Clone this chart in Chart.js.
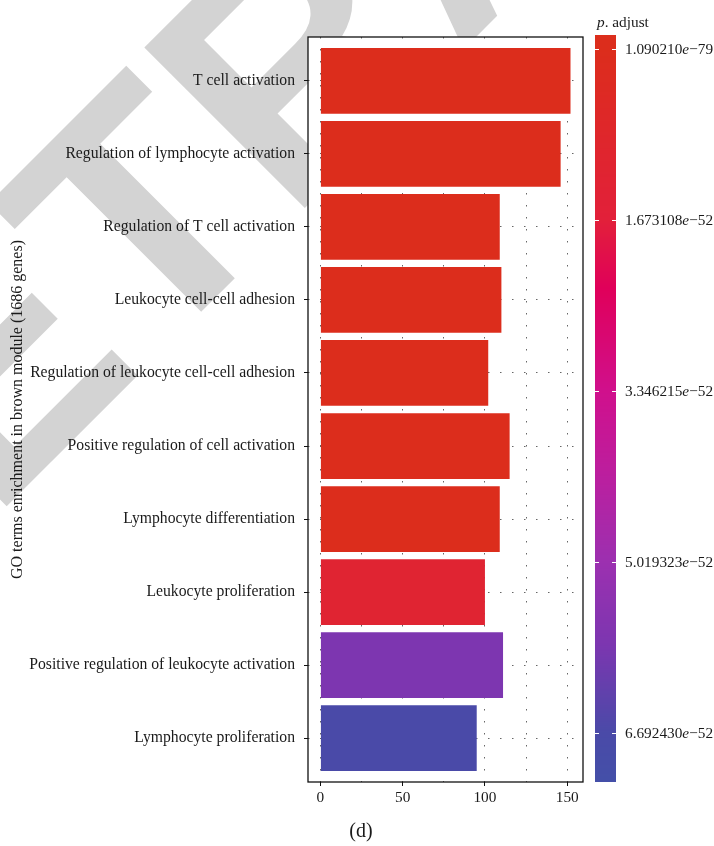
<!DOCTYPE html>
<html>
<head>
<meta charset="utf-8">
<script src="https://cdn.jsdelivr.net/npm/chart.js@4.4.0/dist/chart.umd.min.js"></script>
<style>
  html, body { margin: 0; padding: 0; background: #fff; }
</style>
</head>
<body>
<canvas id="grafico" width="714" height="846"></canvas>
<script>
// Dados
const categorias = [
    'T cell activation',
    'Regulation of lymphocyte activation',
    'Regulation of T cell activation',
    'Leukocyte cell-cell adhesion',
    'Regulation of leukocyte cell-cell adhesion',
    'Positive regulation of cell activation',
    'Lymphocyte differentiation',
    'Leukocyte proliferation',
    'Positive regulation of leukocyte activation',
    'Lymphocyte proliferation'
];
const contagens = [152, 146, 109, 110, 102, 115, 109, 100, 111, 95];
const pAjustado = [1.090210e-79, 3.2e-70, 5.1e-62, 8.4e-60, 2.6e-56, 4.0e-55, 1.9e-54, 1.2e-52, 5.8e-52, 6.692430e-52];
const ticksX = [0, 25, 50, 75, 100, 125, 150];
const rotulosX = [0, 50, 100, 150];
const ticksCor = [1.090210e-79, 1.673108e-52, 3.346215e-52, 5.019323e-52, 6.692430e-52];

const fonteSerif = '"Liberation Serif", "DejaVu Serif", serif';
const corTexto = '#1a1a1a';

// Gradiente da barra de cores (fração do intervalo -> cor)
const paradasCor = [
    [-0.03, [220, 46, 28]],
    [0.0, [220, 45, 28]],
    [0.25, [226, 32, 58]],
    [0.35, [224, 0, 90]],
    [0.5, [208, 16, 140]],
    [0.62, [188, 30, 158]],
    [0.75, [156, 48, 176]],
    [0.87, [124, 54, 176]],
    [1.0, [74, 74, 168]],
    [1.08, [67, 80, 168]]
];

function corFracao(f) {
    if (f <= paradasCor[0][0]) return paradasCor[0][1];
    for (let i = 1; i < paradasCor.length; i++) {
        const [f1, c1] = paradasCor[i];
        const [f0, c0] = paradasCor[i - 1];
        if (f <= f1) {
            const t = (f - f0) / (f1 - f0);
            return c0.map((c, k) => Math.round(c + (c1[k] - c) * t));
        }
    }
    return paradasCor[paradasCor.length - 1][1];
}

const minCor = ticksCor[0];
const maxCor = ticksCor[ticksCor.length - 1];

function corPara(p) {
    const c = corFracao((p - minCor) / (maxCor - minCor));
    return `rgb(${c[0]}, ${c[1]}, ${c[2]})`;
}

// Marca d'água e fundo branco do painel
const fundo = {
    id: 'fundo',
    beforeDraw(chart) {
        const ctx = chart.ctx;
        const area = chart.chartArea;
        ctx.save();
        ctx.fillStyle = '#fff';
        ctx.fillRect(0, 0, chart.width, chart.height);

        ctx.font = 'bold 330px "Liberation Sans", Arial, sans-serif';
        ctx.fillStyle = '#d3d3d3';
        ctx.textBaseline = 'alphabetic';
        ctx.textAlign = 'left';
        const desloc = ctx.measureText('RE').width + ctx.measureText('T').width / 2;
        ctx.translate(218, 295);
        ctx.rotate(-Math.PI / 4);
        ctx.fillText('RETRACTED', -desloc, 0);
        ctx.restore();

        ctx.save();
        ctx.fillStyle = '#fff';
        ctx.fillRect(area.left, area.top, area.right - area.left, area.bottom - area.top);
        ctx.restore();
    }
};

// Moldura, barra de cores e rótulo (d)
const extras = {
    id: 'extras',
    afterDraw(chart) {
        const ctx = chart.ctx;
        const area = chart.chartArea;
        ctx.save();
        ctx.strokeStyle = '#111';
        ctx.lineWidth = 1.3;
        ctx.strokeRect(area.left, area.top, area.right - area.left, area.bottom - area.top);

        // barra de cores
        const xb = 595, wb = 21, yTopo = 35, yFim = 782;
        const y0 = 49, y1 = 733;
        for (let y = yTopo; y < yFim; y++) {
            const c = corFracao((y + 0.5 - y0) / (y1 - y0));
            ctx.fillStyle = `rgb(${c[0]}, ${c[1]}, ${c[2]})`;
            ctx.fillRect(xb, y, wb, 1);
        }

        ctx.textBaseline = 'middle';
        ctx.textAlign = 'left';
        ticksCor.forEach((v) => {
            const y = Math.round(y0 + (v - minCor) / (maxCor - minCor) * (y1 - y0)) + 0.5;
            ctx.strokeStyle = '#fff';
            ctx.lineWidth = 1;
            ctx.beginPath();
            ctx.moveTo(xb, y); ctx.lineTo(xb + 4, y);
            ctx.moveTo(xb + wb - 4, y); ctx.lineTo(xb + wb, y);
            ctx.stroke();

            const [mant, expo] = v.toExponential(6).split('e');
            let x = 625;
            ctx.fillStyle = corTexto;
            ctx.font = '15.3px ' + fonteSerif;
            ctx.fillText(mant, x, y);
            x += ctx.measureText(mant).width;
            ctx.font = 'italic 15.3px ' + fonteSerif;
            ctx.fillText('e', x, y);
            x += ctx.measureText('e').width;
            ctx.font = '15.3px ' + fonteSerif;
            ctx.fillText(expo.replace('-', '\u2212'), x, y);
        });

        // título da legenda
        ctx.font = 'italic 15.3px ' + fonteSerif;
        ctx.fillText('p', 597, 23);
        const xl = 597 + ctx.measureText('p').width;
        ctx.font = '15.3px ' + fonteSerif;
        ctx.fillText('. adjust', xl, 23);

        ctx.font = '20px ' + fonteSerif;
        ctx.textAlign = 'center';
        ctx.fillText('(d)', 361, 832);
        ctx.restore();
    }
};

const ctxBarras = document.getElementById('grafico').getContext('2d');

new Chart(ctxBarras, {
    type: 'bar',
    data: {
        datasets: [{
            data: contagens.map((v, i) => ({ x: v, y: i })),
            backgroundColor: pAjustado.map(corPara),
            borderWidth: 0,
            barPercentage: 0.9,
            categoryPercentage: 1.0
        }]
    },
    options: {
        indexAxis: 'y',
        responsive: false,
        devicePixelRatio: 1,
        animation: false,
        layout: { padding: { left: 0, top: 37, right: 131, bottom: 0 } },
        plugins: {
            legend: { display: false },
            tooltip: { enabled: false }
        },
        scales: {
            x: {
                type: 'linear',
                min: -7.55,
                max: 159.6,
                afterBuildTicks: (escala) => {
                    escala.ticks = ticksX.map((v) => ({ value: v }));
                },
                afterFit: (escala) => { escala.height = 64; },
                ticks: {
                    autoSkip: false,
                    maxRotation: 0,
                    padding: 3,
                    color: corTexto,
                    font: { family: fonteSerif, size: 15.3 },
                    callback: (v) => rotulosX.includes(v) ? String(v) : ''
                },
                grid: {
                    color: '#666',
                    lineWidth: 1,
                    tickLength: 4,
                    tickWidth: 1,
                    tickColor: (c) => (c.tick && rotulosX.includes(c.tick.value)) ? '#111' : 'rgba(0,0,0,0)'
                },
                border: { display: false, dash: [1.5, 10.5] }
            },
            y: {
                type: 'linear',
                reverse: true,
                offset: false,
                min: -0.6,
                max: categorias.length - 0.4,
                afterBuildTicks: (escala) => {
                    escala.ticks = categorias.map((_, i) => ({ value: i }));
                },
                afterFit: (escala) => { escala.width = 308; },
                ticks: {
                    autoSkip: false,
                    padding: 9,
                    color: corTexto,
                    font: { family: fonteSerif, size: 15.7 },
                    callback: (v) => categorias[v]
                },
                grid: {
                    offset: false,
                    color: '#666',
                    lineWidth: 1,
                    tickLength: 4,
                    tickWidth: 1,
                    tickColor: '#111'
                },
                border: { display: false, dash: [1.5, 10.5] },
                title: {
                    display: true,
                    text: 'GO terms enrichment in brown module (1686 genes)',
                    color: corTexto,
                    font: { family: fonteSerif, size: 16 },
                    padding: { top: 8, bottom: 0 }
                }
            }
        }
    },
    plugins: [fundo, extras]
});
</script>
</body>
</html>
